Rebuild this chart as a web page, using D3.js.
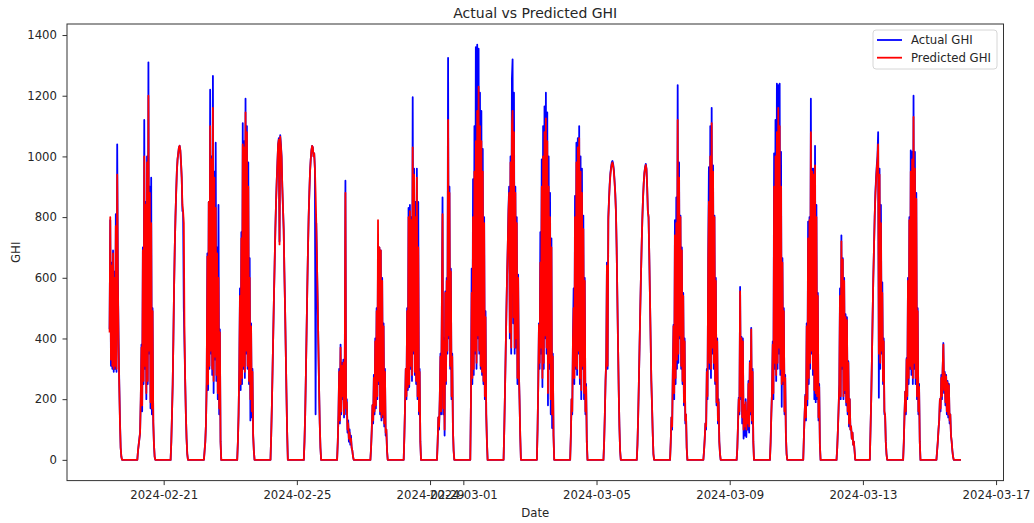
<!DOCTYPE html>
<html>
<head>
<meta charset="utf-8">
<script src="https://cdn.jsdelivr.net/npm/d3@7"></script>
<style>
  body { margin: 0; background: #fff; }
  text { font-family: "DejaVu Sans", sans-serif; fill: #262626; }
</style>
</head>
<body>
<svg id="chart" width="1034" height="523"></svg>
<script>
/** Days of the record, one entry per day */
var days = [
  "2024-02-19", "2024-02-20", "2024-02-21", "2024-02-22", "2024-02-23", "2024-02-24",
  "2024-02-25", "2024-02-26", "2024-02-27", "2024-02-28", "2024-02-29", "2024-03-01",
  "2024-03-02", "2024-03-03", "2024-03-04", "2024-03-05", "2024-03-06", "2024-03-07",
  "2024-03-08", "2024-03-09", "2024-03-10", "2024-03-11", "2024-03-12", "2024-03-13",
  "2024-03-14", "2024-03-15"
];

/** Readings every 30 min starting 05:00 each day (null = before the record starts) */
var slotStartHour = 5,
    slotMinutes = 30;

/** Last reading of the record (night, 0 W/m2) */
var lastReading = "2024-03-15T22:40";

var actualGHI = [
  [null, null, null, null, null, null, null, null, 430, 790, 310, 650, 300, 690, 290, 620, 300, 810, 290, 1040, 600, 400, 250, 130, 40, 10, 0],
  [0, 30, 50, 70, 90, 200, 380, 160, 700, 250, 1120, 300, 850, 200, 1000, 250, 1310, 350, 900, 170, 930, 150, 500, 120, 50, 10, 0],
  [0, 60, 150, 250, 400, 570, 700, 800, 880, 950, 990, 1010, 1030, 1035, 1020, 980, 930, 820, 820, 500, 380, 260, 150, 70, 20, 0, 0],
  [0, 30, 60, 120, 250, 680, 230, 850, 300, 1220, 350, 1000, 280, 1265, 220, 950, 330, 1045, 260, 700, 200, 840, 150, 430, 60, 0, 0],
  [0, 60, 150, 300, 565, 230, 750, 250, 1110, 300, 1050, 270, 1190, 350, 1100, 300, 980, 250, 665, 130, 450, 140, 300, 80, 30, 0, 0],
  [0, 80, 180, 300, 420, 540, 650, 760, 850, 920, 980, 1040, 1060, 720, 1070, 1040, 1000, 900, 830, 760, 620, 500, 360, 220, 90, 0, 0],
  [0, 60, 150, 280, 420, 560, 690, 800, 880, 950, 990, 1020, 1035, 1030, 1000, 1010, 960, 150, 780, 650, 520, 380, 240, 120, 40, 0, 0],
  [0, 60, 150, 300, 120, 380, 150, 320, 200, 330, 140, 280, 920, 150, 200, 90, 130, 60, 100, 50, 80, 40, 30, 10, 0, 0, 0],
  [0, 40, 100, 180, 120, 280, 150, 400, 170, 500, 200, 700, 250, 700, 150, 690, 130, 600, 140, 450, 110, 300, 80, 100, 30, 0, 0],
  [0, 80, 180, 300, 200, 500, 230, 830, 240, 840, 300, 800, 260, 1195, 350, 960, 280, 850, 250, 960, 200, 850, 150, 300, 60, 0, 0],
  [0, 60, 140, 100, 200, 350, 150, 500, 865, 150, 400, 80, 555, 250, 600, 350, 1325, 400, 900, 300, 630, 200, 350, 100, 30, 0, 0],
  [0, 200, 630, 250, 925, 280, 1100, 350, 1360, 300, 1368, 400, 1355, 350, 1210, 300, 1150, 280, 1025, 250, 800, 200, 490, 150, 60, 0, 0],
  [0, 100, 220, 350, 480, 600, 700, 820, 900, 400, 1000, 350, 1255, 1320, 450, 1210, 350, 900, 370, 800, 250, 610, 300, 200, 80, 0, 0],
  [0, 100, 250, 450, 300, 750, 350, 990, 240, 1100, 300, 1165, 400, 1210, 350, 1145, 180, 1000, 300, 880, 150, 730, 105, 350, 80, 0, 0],
  [0, 80, 200, 150, 400, 565, 250, 870, 300, 1045, 280, 1060, 350, 1100, 250, 1000, 200, 960, 300, 805, 200, 600, 150, 250, 60, 0, 0],
  [0, 60, 150, 260, 330, 650, 300, 800, 860, 910, 945, 965, 980, 985, 975, 955, 920, 880, 820, 700, 540, 380, 230, 110, 30, 0, 0],
  [0, 50, 140, 250, 370, 490, 600, 700, 790, 860, 910, 945, 965, 975, 960, 900, 820, 800, 680, 540, 400, 260, 180, 90, 20, 0, 0],
  [0, 60, 140, 100, 300, 445, 200, 790, 250, 865, 300, 1235, 320, 980, 400, 805, 300, 700, 250, 550, 180, 400, 120, 150, 40, 0, 0],
  [0, 30, 70, 120, 100, 300, 200, 665, 965, 300, 1100, 270, 1160, 350, 970, 300, 805, 250, 600, 180, 400, 120, 200, 60, 20, 0, 0],
  [0, 40, 120, 205, 150, 570, 200, 405, 120, 400, 70, 180, 80, 200, 75, 160, 100, 260, 90, 325, 150, 435, 120, 300, 60, 0, 0],
  [0, 60, 150, 225, 390, 200, 1010, 300, 1120, 260, 1240, 300, 1235, 350, 1240, 280, 1015, 175, 665, 250, 500, 150, 280, 80, 20, 0, 0],
  [0, 80, 150, 215, 130, 450, 180, 785, 250, 800, 300, 1190, 350, 960, 280, 960, 200, 1035, 190, 840, 200, 550, 130, 250, 50, 0, 0],
  [0, 40, 100, 170, 250, 565, 200, 740, 300, 665, 200, 600, 220, 480, 180, 470, 150, 325, 110, 200, 100, 110, 70, 90, 50, 60, 30, 0],
  [0, 100, 200, 330, 470, 600, 700, 800, 880, 930, 970, 1000, 1080, 205, 960, 300, 840, 350, 585, 250, 400, 150, 150, 60, 20, 0, 0],
  [0, 60, 150, 225, 150, 335, 200, 600, 250, 800, 300, 1020, 280, 1015, 250, 1200, 300, 1015, 250, 880, 200, 500, 150, 250, 60, 0, 0],
  [0, 30, 60, 100, 130, 200, 160, 280, 200, 300, 385, 220, 290, 180, 280, 150, 260, 140, 250, 120, 150, 80, 60, 30, 10, 0, 0]
];

var predictedGHI = [
  [null, null, null, null, null, null, null, null, 420, 800, 330, 640, 310, 680, 300, 600, 310, 770, 300, 940, 580, 380, 240, 120, 40, 10, 0],
  [0, 30, 50, 70, 90, 210, 370, 180, 690, 260, 1000, 310, 840, 220, 980, 260, 1200, 360, 880, 190, 780, 170, 490, 130, 50, 10, 0],
  [0, 60, 150, 250, 400, 570, 700, 800, 880, 950, 990, 1010, 1030, 1035, 1020, 980, 930, 840, 820, 780, 420, 260, 150, 70, 20, 0, 0],
  [0, 30, 60, 120, 260, 670, 250, 850, 310, 1100, 360, 990, 300, 1160, 260, 930, 340, 830, 280, 680, 220, 600, 170, 420, 60, 0, 0],
  [0, 60, 150, 300, 540, 250, 730, 270, 1040, 310, 1030, 290, 1145, 360, 1080, 310, 900, 260, 600, 200, 440, 160, 290, 80, 30, 0, 0],
  [0, 80, 180, 300, 420, 540, 650, 760, 850, 920, 980, 1040, 1055, 710, 1065, 1035, 995, 900, 830, 760, 620, 500, 360, 220, 90, 0, 0],
  [0, 60, 150, 280, 420, 560, 690, 800, 880, 950, 990, 1020, 1035, 1030, 1000, 1010, 960, 880, 780, 650, 520, 380, 240, 120, 40, 0, 0],
  [0, 60, 150, 290, 130, 370, 160, 310, 210, 320, 150, 270, 880, 170, 190, 100, 120, 70, 90, 60, 70, 40, 30, 10, 0, 0, 0],
  [0, 40, 100, 180, 130, 270, 160, 390, 180, 490, 210, 790, 260, 700, 160, 690, 140, 590, 150, 440, 120, 290, 90, 100, 30, 0, 0],
  [0, 80, 180, 300, 210, 490, 240, 800, 250, 820, 310, 790, 280, 1030, 360, 940, 290, 800, 260, 930, 210, 700, 160, 290, 60, 0, 0],
  [0, 60, 140, 110, 200, 340, 160, 490, 810, 170, 390, 100, 550, 260, 590, 360, 1120, 410, 880, 310, 620, 210, 340, 100, 30, 0, 0],
  [0, 200, 550, 270, 800, 300, 950, 360, 1050, 320, 1150, 410, 1230, 360, 1100, 310, 1050, 290, 950, 260, 780, 210, 470, 150, 60, 0, 0],
  [0, 100, 220, 350, 480, 600, 700, 810, 880, 420, 980, 370, 1100, 1150, 470, 1080, 370, 880, 400, 780, 270, 600, 300, 200, 80, 0, 0],
  [0, 100, 250, 445, 320, 650, 370, 900, 270, 1000, 320, 1080, 410, 1125, 370, 1050, 220, 900, 320, 800, 200, 700, 150, 340, 80, 0, 0],
  [0, 80, 200, 160, 390, 500, 270, 800, 310, 980, 300, 1030, 360, 1060, 270, 950, 230, 880, 310, 760, 220, 590, 160, 240, 60, 0, 0],
  [0, 60, 150, 260, 330, 640, 310, 790, 855, 905, 940, 960, 975, 980, 970, 950, 915, 875, 815, 700, 540, 380, 230, 110, 30, 0, 0],
  [0, 50, 140, 250, 370, 490, 600, 700, 790, 860, 910, 945, 962, 972, 958, 900, 820, 800, 680, 540, 400, 260, 180, 90, 20, 0, 0],
  [0, 60, 140, 110, 290, 440, 220, 740, 270, 780, 330, 1120, 350, 930, 410, 800, 310, 690, 260, 540, 190, 390, 130, 150, 40, 0, 0],
  [0, 30, 70, 120, 110, 290, 210, 660, 850, 320, 1000, 300, 1110, 370, 950, 320, 800, 260, 590, 190, 390, 130, 190, 60, 20, 0, 0],
  [0, 40, 120, 200, 160, 555, 210, 400, 140, 390, 100, 180, 110, 190, 100, 160, 120, 250, 110, 320, 160, 430, 130, 290, 60, 0, 0],
  [0, 60, 150, 225, 380, 220, 900, 320, 1000, 280, 1080, 320, 1160, 370, 1100, 300, 900, 250, 650, 260, 490, 160, 270, 80, 20, 0, 0],
  [0, 80, 150, 210, 140, 440, 200, 730, 270, 790, 320, 1080, 360, 950, 300, 940, 230, 970, 220, 800, 210, 540, 140, 240, 50, 0, 0],
  [0, 40, 100, 170, 250, 540, 210, 720, 310, 660, 210, 590, 230, 470, 190, 460, 160, 320, 120, 200, 100, 110, 70, 90, 50, 60, 30, 0],
  [0, 100, 200, 330, 470, 600, 700, 800, 870, 920, 960, 990, 1040, 350, 940, 320, 780, 360, 550, 260, 390, 160, 150, 60, 20, 0, 0],
  [0, 60, 150, 225, 160, 330, 210, 590, 270, 790, 310, 950, 300, 990, 270, 1130, 320, 960, 270, 860, 210, 490, 160, 240, 60, 0, 0],
  [0, 30, 60, 100, 130, 200, 170, 270, 210, 300, 380, 230, 285, 190, 275, 160, 255, 150, 245, 130, 150, 80, 60, 30, 10, 0, 0]
];

/** Tick labels */
var xTickDates = ["2024-02-21", "2024-02-25", "2024-02-29", "2024-03-01",
                  "2024-03-05", "2024-03-09", "2024-03-13", "2024-03-17"];
var yTickValues = [0, 200, 400, 600, 800, 1000, 1200, 1400];

/** Figure layout */
var width = 1034,
    height = 523,
    margin = {top: 24, right: 30.5, bottom: 42.4, left: 67};

var plotW = width - margin.left - margin.right,
    plotH = height - margin.top - margin.bottom;

var parseDay = d3.timeParse("%Y-%m-%d"),
    parseMinute = d3.timeParse("%Y-%m-%dT%H:%M");

/** turn the per-day lists into {date, value} rows */
function buildSeries(byDay) {
    var rows = [];
    byDay.forEach(function (vals, d) {
        var start = d3.timeHour.offset(parseDay(days[d]), slotStartHour);
        vals.forEach(function (v, i) {
            if (v === null) return;
            rows.push({date: d3.timeMinute.offset(start, i * slotMinutes), value: v});
        });
    });
    rows.push({date: parseMinute(lastReading), value: 0});
    return rows;
}

var actualRows = buildSeries(actualGHI),
    predictedRows = buildSeries(predictedGHI);

var allRows = actualRows.concat(predictedRows);

// matplotlib style 5% margins round the data
var tExtent = d3.extent(allRows, function (d) { return d.date; }),
    vExtent = d3.extent(allRows, function (d) { return d.value; });
var tPad = (tExtent[1] - tExtent[0]) * 0.05,
    vPad = (vExtent[1] - vExtent[0]) * 0.05;

var x = d3.scaleTime()
    .domain([new Date(+tExtent[0] - tPad), new Date(+tExtent[1] + tPad)])
    .range([0, plotW]);

var y = d3.scaleLinear()
    .domain([vExtent[0] - vPad, vExtent[1] + vPad])
    .range([plotH, 0]);

var svg = d3.select("#chart");

var g = svg.append("g")
    .attr("transform", "translate(" + margin.left + "," + margin.top + ")");

g.append("clipPath").attr("id", "clip")
    .append("rect").attr("width", plotW).attr("height", plotH);

var line = d3.line()
    .x(function (d) { return x(d.date); })
    .y(function (d) { return y(d.value); });

var lines = g.append("g").attr("clip-path", "url(#clip)");

lines.append("path")
    .datum(actualRows)
    .attr("fill", "none")
    .attr("stroke", "#0000ff")
    .attr("stroke-width", 1.8)
    .attr("stroke-linejoin", "round")
    .attr("d", line);

lines.append("path")
    .datum(predictedRows)
    .attr("fill", "none")
    .attr("stroke", "#ff0000")
    .attr("stroke-width", 1.8)
    .attr("stroke-linejoin", "round")
    .attr("d", line);

// axes
var xAxis = d3.axisBottom(x)
    .tickValues(xTickDates.map(parseDay))
    .tickFormat(d3.timeFormat("%Y-%m-%d"))
    .tickSize(4.5)
    .tickPadding(5.5);

var yAxis = d3.axisLeft(y)
    .tickValues(yTickValues)
    .tickFormat(d3.format("d"))
    .tickSize(4.5)
    .tickPadding(5.5);

var gx = g.append("g")
    .attr("transform", "translate(0," + plotH + ")")
    .call(xAxis);

var gy = g.append("g").call(yAxis);

[gx, gy].forEach(function (ax) {
    ax.select(".domain").remove();
    ax.selectAll(".tick line").attr("stroke", "#333").attr("stroke-width", 1);
    ax.selectAll(".tick text")
        .style("font-family", "DejaVu Sans, sans-serif")
        .style("font-size", "11.7px")
        .attr("fill", "#262626");
});

// spines
g.append("rect")
    .attr("width", plotW)
    .attr("height", plotH)
    .attr("fill", "none")
    .attr("stroke", "#333")
    .attr("stroke-width", 1);

// titles
svg.append("text")
    .attr("x", margin.left + plotW / 2)
    .attr("y", 18)
    .attr("text-anchor", "middle")
    .style("font-size", "14px")
    .text("Actual vs Predicted GHI");

svg.append("text")
    .attr("x", margin.left + plotW / 2)
    .attr("y", 517)
    .attr("text-anchor", "middle")
    .style("font-size", "11.7px")
    .text("Date");

svg.append("text")
    .attr("transform", "translate(20," + (margin.top + plotH / 2) + ") rotate(-90)")
    .attr("text-anchor", "middle")
    .style("font-size", "11.7px")
    .text("GHI");

// legend
var legendItems = [
    {label: "Actual GHI", color: "#0000ff"},
    {label: "Predicted GHI", color: "#ff0000"}
];

var legend = svg.append("g").attr("transform", "translate(873,30)");

legend.append("rect")
    .attr("width", 124)
    .attr("height", 39)
    .attr("rx", 3)
    .attr("fill", "#fff")
    .attr("fill-opacity", 0.8)
    .attr("stroke", "#d6d6d6");

var item = legend.selectAll(".item")
    .data(legendItems)
    .enter()
    .append("g")
    .attr("transform", function (d, i) { return "translate(0," + (10 + i * 17.7) + ")"; });

item.append("line")
    .attr("x1", 4).attr("x2", 29)
    .attr("stroke", function (d) { return d.color; })
    .attr("stroke-width", 1.8);

item.append("text")
    .attr("x", 38)
    .attr("y", 4.3)
    .style("font-size", "11.7px")
    .text(function (d) { return d.label; });
</script>
</body>
</html>
